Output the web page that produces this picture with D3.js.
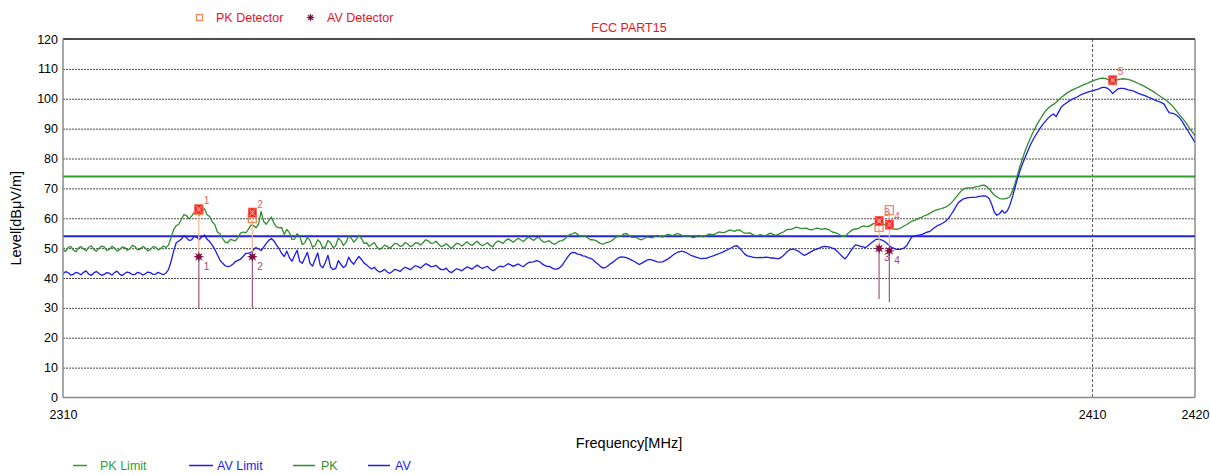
<!DOCTYPE html>
<html>
<head>
<meta charset="utf-8">
<script src="https://cdn.jsdelivr.net/npm/d3@7"></script>
<style>
  body { margin: 0; background: #fff; }
  text { font-family: "Liberation Sans", Arial, sans-serif; }
</style>
</head>
<body>
<svg id="chart" width="1210" height="475"></svg>
<script>
// Sweep 2310–2420 MHz, one reading every 0.25 MHz (dBµV/m), 40 readings per row = 10 MHz
const freqStart = 2310;
const freqStep = 0.25;

const pkTrace = [
  49.6, 48.9, 50.2, 50.6, 49.4, 48.8, 50.0, 50.5, 49.7, 49.1, 50.3, 50.8, 49.5, 49.0, 49.9, 50.7, 50.4, 49.2, 49.6, 50.6,
  50.1, 49.0, 49.5, 50.4, 50.2, 49.3, 49.8, 50.9, 50.5, 49.4, 49.7, 50.6, 50.0, 49.1, 49.6, 50.5, 50.3, 49.4, 49.9, 50.7,
  50.2, 51.0, 53.5, 56.2, 57.5, 58.0, 59.6, 61.2, 60.9, 59.8, 60.7, 62.0, 61.9, 61.0, 62.4, 63.2, 61.2, 60.6, 58.8, 57.9,
  55.4, 54.8, 53.3, 52.0, 51.8, 52.9, 52.7, 52.4, 53.6, 55.0, 55.4, 55.1, 56.2, 57.7, 57.6, 56.8, 57.9, 62.3, 58.9, 58.0,
  59.2, 60.4, 58.4, 57.1, 56.8, 56.9, 54.6, 56.3, 55.2, 52.9, 53.0, 54.8, 54.0, 51.2, 51.8, 53.6, 52.6, 50.3, 50.9, 52.8,
  52.0, 49.9, 50.4, 52.6, 51.8, 50.1, 50.8, 53.4, 52.5, 50.9, 51.9, 54.0, 53.4, 52.0, 52.9, 54.3, 53.3, 51.6, 51.8, 50.6,
  51.2, 51.9, 50.4, 49.6, 50.1, 51.0, 50.6, 49.9, 50.7, 51.6, 51.4, 50.6, 50.8, 51.9, 51.4, 50.5, 50.9, 51.8, 51.7, 51.0,
  51.9, 52.8, 52.4, 51.6, 51.7, 52.3, 51.3, 50.5, 50.8, 51.5, 50.7, 49.9, 50.8, 51.6, 51.4, 50.7, 51.4, 52.1, 51.3, 50.9,
  51.7, 52.3, 51.4, 50.8, 51.3, 51.8, 50.9, 50.4, 51.7, 52.4, 52.1, 51.6, 52.5, 53.1, 52.6, 52.0, 52.7, 53.3, 52.7, 52.2,
  53.1, 53.7, 53.1, 52.6, 53.4, 53.6, 52.5, 52.0, 52.2, 52.5, 51.7, 51.3, 51.8, 52.4, 52.5, 53.0, 53.9, 54.6, 54.8, 55.2,
  54.6, 54.0, 54.1, 54.0, 53.4, 52.8, 52.8, 52.6, 52.0, 51.5, 51.3, 51.8, 52.0, 52.3, 53.0, 53.7, 54.0, 54.0, 54.8, 54.9,
  54.2, 53.6, 53.6, 53.6, 53.0, 52.8, 53.3, 53.8, 53.6, 53.4, 53.9, 54.3, 54.0, 53.7, 54.1, 54.6, 54.4, 54.2, 54.6, 54.9,
  54.5, 54.0, 54.1, 54.2, 53.8, 53.5, 53.8, 54.3, 54.0, 53.8, 54.2, 54.7, 54.6, 54.5, 55.0, 55.4, 55.3, 55.2, 55.6, 56.0,
  55.9, 55.6, 56.0, 56.1, 55.5, 55.0, 55.0, 55.1, 54.6, 54.2, 54.2, 54.5, 54.3, 54.1, 54.6, 55.0, 54.6, 54.3, 54.6, 55.0,
  55.4, 56.0, 56.3, 56.3, 56.6, 57.0, 56.8, 56.5, 56.6, 56.7, 56.3, 56.1, 56.4, 56.7, 56.5, 56.3, 56.5, 56.4, 56.0, 55.4,
  55.2, 54.9, 54.4, 53.9, 53.9, 54.8, 55.6, 56.2, 56.4, 56.5, 57.0, 57.4, 57.3, 57.2, 57.7, 58.2, 58.2, 58.0, 58.3, 58.0,
  57.6, 57.2, 56.8, 56.4, 56.3, 56.5, 56.9, 57.5, 57.9, 58.5, 59.0, 59.3, 59.7, 60.1, 60.4, 60.9, 61.2, 61.7, 62.2, 62.6,
  62.9, 63.1, 63.4, 63.7, 64.2, 64.9, 65.8, 66.9, 68.0, 69.0, 69.8, 70.1, 70.2, 70.2, 70.3, 70.6, 70.7, 71.0, 71.1, 70.6,
  69.8, 68.7, 67.8, 67.1, 66.6, 66.5, 66.5, 66.7, 67.2, 69.0, 71.5, 74.5, 77.5, 80.1, 82.6, 84.8, 86.8, 88.7, 90.4, 92.0,
  93.4, 94.8, 96.0, 96.9, 97.6, 98.1, 98.8, 99.6, 100.4, 101.1, 101.8, 102.3, 102.8, 103.2, 103.6, 104.0, 104.4, 104.8, 105.1, 105.5,
  105.9, 106.2, 106.5, 106.8, 106.9, 106.8, 106.5, 106.0, 105.8, 106.1, 106.4, 106.6, 106.7, 106.6, 106.5, 106.2, 105.9, 105.5, 105.1, 104.7,
  104.3, 103.8, 103.3, 102.8, 102.3, 101.7, 101.1, 100.5, 99.9, 99.3, 98.6, 97.8, 96.8, 95.7, 94.6, 93.6, 92.5, 91.3, 90.0, 88.8,
  87.6
];

const avTrace = [
  41.4, 42.1, 41.8, 41.0, 41.2, 41.9, 41.6, 41.1, 41.9, 42.4, 41.3, 40.9, 41.7, 42.2, 41.5, 40.9, 41.2, 41.8, 41.6, 41.0,
  41.8, 42.3, 41.3, 40.8, 41.5, 42.0, 41.7, 41.1, 41.2, 41.9, 41.6, 41.0, 41.4, 42.0, 41.8, 41.2, 41.3, 41.9, 41.5, 41.1,
  41.6, 42.8, 45.5, 49.0, 51.8, 52.4, 53.0, 54.2, 53.5, 52.6, 52.8, 54.0, 53.6, 52.9, 53.8, 54.4, 53.0, 52.2, 51.0, 49.6,
  47.8, 46.0, 45.0, 44.1, 43.8, 44.0, 44.6, 45.5, 45.9, 46.3, 47.2, 48.2, 48.3, 48.5, 49.4, 50.2, 49.7, 49.2, 50.3, 51.6,
  52.6, 53.2, 52.4, 51.0, 49.8, 48.2, 47.2, 49.0, 46.8, 45.6, 47.5, 49.3, 45.6, 44.9, 46.8, 48.6, 44.9, 44.0, 46.2, 48.4,
  44.2, 43.4, 45.3, 47.6, 43.6, 42.8, 43.2, 45.8, 44.6, 43.5, 44.2, 47.0, 45.5, 44.6, 46.0, 47.2, 46.2, 45.0, 44.4, 43.6,
  43.0, 43.6, 42.6, 42.0, 42.3, 42.9, 42.0, 41.6, 42.2, 42.9, 42.6, 42.2, 43.0, 43.6, 43.2, 42.8, 43.5, 44.1, 43.8, 43.3,
  44.1, 44.8, 44.4, 43.8, 43.9, 44.2, 43.4, 42.8, 42.8, 43.3, 42.2, 41.8, 42.5, 43.1, 42.8, 42.4, 43.1, 43.7, 43.4, 43.0,
  43.7, 44.3, 43.7, 43.2, 43.6, 43.9, 43.0, 42.5, 42.8, 43.6, 44.0, 43.7, 44.2, 44.8, 44.4, 43.9, 44.3, 44.7, 44.1, 43.8,
  44.6, 45.2, 45.3, 45.4, 45.8, 45.6, 44.9, 44.3, 43.9, 43.9, 43.4, 43.0, 43.0, 43.4, 44.2, 45.6, 46.8, 48.0, 48.6, 48.5,
  48.0, 47.9, 47.4, 47.3, 46.8, 46.6, 46.1, 45.3, 44.6, 43.8, 43.3, 43.6, 44.2, 44.9, 45.4, 46.2, 46.8, 47.1, 47.0, 46.8,
  46.4, 46.0, 45.6, 45.0, 44.5, 45.0, 45.5, 46.0, 46.2, 46.0, 45.7, 45.4, 45.3, 45.4, 45.8, 46.3, 46.9, 47.6, 48.2, 48.7,
  48.9, 48.9, 48.6, 48.1, 47.6, 47.3, 47.0, 46.7, 46.5, 46.6, 46.6, 46.9, 47.2, 47.5, 47.8, 48.2, 48.5, 48.9, 49.3, 49.8,
  50.2, 50.7, 50.8, 50.0, 49.0, 48.0, 47.4, 47.2, 47.0, 46.8, 46.8, 46.9, 46.8, 47.0, 46.9, 46.7, 46.7, 46.6, 46.4, 46.8,
  47.5, 48.4, 49.2, 49.6, 49.7, 49.3, 48.9, 48.2, 47.6, 47.9, 48.4, 48.9, 49.4, 49.7, 50.0, 50.4, 50.6, 50.5, 50.3, 50.0,
  49.7, 48.9, 48.0, 47.1, 46.4, 47.5, 48.8, 50.1, 51.1, 50.9, 50.6, 50.4, 50.2, 50.9, 51.6, 52.3, 52.9, 53.0, 52.8, 52.4,
  51.8, 51.0, 50.3, 49.9, 49.6, 49.6, 49.7, 50.1, 50.9, 52.4, 53.8, 54.1, 54.3, 54.4, 54.6, 55.0, 55.4, 55.6, 56.4, 57.0,
  57.6, 57.9, 58.4, 58.9, 59.8, 61.0, 62.3, 63.8, 65.2, 65.9, 66.5, 66.7, 66.9, 67.0, 67.0, 67.1, 67.3, 67.4, 67.5, 67.3,
  66.6, 64.6, 62.0, 61.0, 61.5, 62.6, 61.7, 62.4, 64.3, 67.0, 70.2, 73.2, 76.0, 78.3, 80.4, 82.5, 84.5, 86.2, 87.7, 89.1,
  90.4, 91.6, 92.6, 93.6, 94.4, 94.9, 94.0, 95.6, 97.2, 98.0, 98.6, 99.2, 99.7, 100.1, 100.5, 101.0, 101.5, 101.8, 102.1, 102.4,
  102.6, 102.9, 103.1, 103.5, 103.8, 103.8, 103.5, 102.8, 101.7, 102.6, 103.3, 103.5, 103.5, 103.3, 103.0, 102.8, 102.6, 102.2, 101.8, 101.5,
  101.2, 100.9, 100.5, 100.1, 99.7, 99.4, 99.0, 98.7, 98.2, 96.6, 95.3, 95.2, 94.9, 94.4, 93.6, 92.4, 91.0, 89.7, 88.2, 86.8,
  85.4
];

// Limits (FCC Part 15)
const pkLimit = 74;
const avLimit = 54;

// Axis ticks
const yTicks = [0, 10, 20, 30, 40, 50, 60, 70, 80, 90, 100, 110, 120];
const xTicks = [2310, 2410, 2420];
const xGridFreqs = [2410];

// Final measurement markers
const markerIds   = [1, 2, 3, 4, 5];
const markerFreq  = [2323.2, 2328.4, 2389.3, 2390.3, 2412.0];
const markerLevel = [63.0, 61.9, 59.1, 57.9, 106.2];   // marker on PK sweep
const pkDetector  = [62.8, 60.1, 57.1, 62.7, null];     // PK detector reading
const avDetector  = [47.1, 47.1, 49.9, 49.1, null];     // AV detector reading
const stemFloor   = [30.0, 30.0, 33.0, 32.0, null];

// Legend entries
const legendNames = ["PK Limit", "AV Limit", "PK", "AV"];

const colors = {
  pk: "#2e8e2e", pkLimit: "#2f9f2f", av: "#1c1ceb", avLimit: "#2323dc",
  grid: "#4a4a4a", title: "#e8141c", pkMark: "#f08a5d", avMark: "#7d1244",
  traceMark: "#f02424", upperStem: "#f6b88e", lowerStem: "#a4557c",
  markLabel: "#e8605a", avLabel: "#a24a72"
};

const svg = d3.select("#chart");
const x = d3.scaleLinear().domain([2310, 2420]).range([63, 1195]);
const y = d3.scaleLinear().domain([0, 120]).range([397.5, 39]);
const [x0, x1] = x.range();
const [yb, yt] = y.range();
const freqs = pkTrace.map((_, i) => freqStart + i * freqStep);

svg.append("defs").append("clipPath").attr("id", "plotClip")
  .append("rect").attr("x", x0).attr("y", yt).attr("width", x1 - x0).attr("height", yb - yt);

// horizontal grid
svg.append("g").selectAll("line").data(yTicks.filter(t => t > 0 && t < 120)).join("line")
  .attr("x1", x0).attr("x2", x1)
  .attr("y1", d => y(d) + 0.5).attr("y2", d => y(d) + 0.5)
  .attr("stroke", colors.grid).attr("stroke-width", 1).attr("stroke-dasharray", "2,1");

// vertical grid
svg.append("g").selectAll("line").data(xGridFreqs).join("line")
  .attr("x1", d => Math.round(x(d)) + 0.5).attr("x2", d => Math.round(x(d)) + 0.5)
  .attr("y1", yt).attr("y2", yb)
  .attr("stroke", "#666").attr("stroke-width", 1).attr("stroke-dasharray", "3,2");

const plot = svg.append("g").attr("clip-path", "url(#plotClip)");

const line = d3.line().x((d, i) => x(freqs[i])).y(d => y(d));

// limit lines
plot.append("line").attr("x1", x0).attr("x2", x1).attr("y1", y(pkLimit)).attr("y2", y(pkLimit))
  .attr("stroke", colors.pkLimit).attr("stroke-width", 2);
plot.append("line").attr("x1", x0).attr("x2", x1).attr("y1", y(avLimit)).attr("y2", y(avLimit))
  .attr("stroke", colors.avLimit).attr("stroke-width", 2);

// sweeps
plot.append("path").datum(pkTrace).attr("d", line)
  .attr("fill", "none").attr("stroke", colors.pk).attr("stroke-width", 1.3).attr("stroke-linejoin", "round");
plot.append("path").datum(avTrace).attr("d", line)
  .attr("fill", "none").attr("stroke", colors.av).attr("stroke-width", 1.3).attr("stroke-linejoin", "round");

// frame
svg.append("line").attr("x1", x0).attr("x2", x1).attr("y1", yt).attr("y2", yt).attr("stroke", "#111").attr("stroke-width", 1.5);
svg.append("line").attr("x1", x0).attr("x2", x0).attr("y1", yt).attr("y2", yb).attr("stroke", "#8a8a8a").attr("stroke-width", 1.5);
svg.append("line").attr("x1", x0).attr("x2", x1).attr("y1", yb).attr("y2", yb).attr("stroke", "#8a8a8a").attr("stroke-width", 1.5);
svg.append("line").attr("x1", x1).attr("x2", x1).attr("y1", yt).attr("y2", yb).attr("stroke", "#555").attr("stroke-width", 1);

// star glyph for the AV detector
function starPath(r1, r2, n) {
  const pts = [];
  for (let i = 0; i < 2 * n; i++) {
    const r = i % 2 ? r2 : r1;
    const a = Math.PI * i / n - Math.PI / 2;
    pts.push([r * Math.cos(a), r * Math.sin(a)]);
  }
  return "M" + pts.map(p => p[0].toFixed(2) + "," + p[1].toFixed(2)).join("L") + "Z";
}
const star = starPath(5.5, 2.4, 8);

function hatchedMark(g) {
  g.append("rect").attr("x", -4).attr("y", -4.5).attr("width", 8).attr("height", 9)
    .attr("fill", colors.traceMark).attr("stroke", "#ff5a4a").attr("stroke-width", 0.8);
  g.append("path").attr("d", "M-3,-3.5L3,3.5M3,-3.5L-3,3.5M-1.8,0L0,-2L1.8,0L0,2Z")
    .attr("fill", "none").attr("stroke", "#ffb4a8").attr("stroke-width", 0.8);
}

// markers
const markers = markerIds.map((id, i) => ({
  id, f: markerFreq[i], lvl: markerLevel[i], pk: pkDetector[i], av: avDetector[i], floor: stemFloor[i]
}));

const mk = svg.append("g");
markers.forEach(m => {
  const mx = x(m.f);
  if (m.av != null) {
    const top = Math.max(m.lvl, m.pk);
    mk.append("line").attr("x1", mx).attr("x2", mx).attr("y1", y(top)).attr("y2", y(m.av))
      .attr("stroke", colors.upperStem).attr("stroke-width", 1.2);
    mk.append("line").attr("x1", mx).attr("x2", mx).attr("y1", y(m.av)).attr("y2", y(m.floor))
      .attr("stroke", colors.lowerStem).attr("stroke-width", 1.2);
  }
});
markers.forEach(m => {
  const mx = x(m.f);
  if (m.pk != null) {
    mk.append("rect").attr("x", mx - 4).attr("y", y(m.pk) - 4.5).attr("width", 8).attr("height", 9)
      .attr("fill", "none").attr("stroke", colors.pkMark).attr("stroke-width", 1.3);
  }
  hatchedMark(mk.append("g").attr("transform", `translate(${mx},${y(m.lvl)})`));
  mk.append("text").attr("x", mx + 5).attr("y", y(m.lvl) - 5).text(m.id)
    .attr("font-size", 10).attr("fill", colors.markLabel);
  if (m.av != null) {
    mk.append("path").attr("d", star).attr("transform", `translate(${mx},${y(m.av)})`)
      .attr("fill", colors.avMark);
    mk.append("text").attr("x", mx + 5).attr("y", y(m.av) + 13).text(m.id)
      .attr("font-size", 10).attr("fill", colors.avLabel);
  }
});

// axes
const yAxis = svg.append("g").attr("transform", `translate(${x0},0)`)
  .call(d3.axisLeft(y).tickValues(yTicks).tickSize(0).tickPadding(5).tickFormat(d3.format("d")));
yAxis.select(".domain").remove();
yAxis.selectAll("text").attr("font-size", 12.5).attr("fill", "#000")
  .attr("font-family", "'Liberation Sans', Arial, sans-serif");

const xAxis = svg.append("g").attr("transform", `translate(0,${yb})`)
  .call(d3.axisBottom(x).tickValues(xTicks).tickSize(0).tickPadding(13).tickFormat(d3.format("d")));
xAxis.select(".domain").remove();
xAxis.selectAll("text").attr("font-size", 12.5).attr("fill", "#000")
  .attr("font-family", "'Liberation Sans', Arial, sans-serif");

// titles
const midX = (x0 + x1) / 2;
svg.append("text").attr("x", midX).attr("y", 32).attr("text-anchor", "middle")
  .attr("font-size", 12.5).attr("fill", colors.title).text("FCC PART15");
svg.append("text").attr("x", midX).attr("y", 448).attr("text-anchor", "middle")
  .attr("font-size", 14.5).attr("fill", "#000").text("Frequency[MHz]");
svg.append("text").attr("transform", `translate(21,${(yt + yb) / 2}) rotate(-90)`)
  .attr("text-anchor", "middle").attr("font-size", 14.5).attr("fill", "#000").text("Level[dBμV/m]");

// detector legend (top)
const topLeg = svg.append("g");
topLeg.append("rect").attr("x", 196.5).attr("y", 14.5).attr("width", 6).attr("height", 6)
  .attr("fill", "none").attr("stroke", colors.pkMark).attr("stroke-width", 1.4);
topLeg.append("text").attr("x", 216).attr("y", 22).attr("font-size", 12.5).attr("fill", colors.title).text("PK Detector");
topLeg.append("path").attr("d", starPath(4.5, 2, 8)).attr("transform", "translate(310.5,17.5)").attr("fill", colors.avMark);
topLeg.append("text").attr("x", 327).attr("y", 22).attr("font-size", 12.5).attr("fill", colors.title).text("AV Detector");

// trace legend (bottom)
const legColors = [colors.pkLimit, colors.av, colors.pk, colors.av];
const legLine = [[73, 87], [189, 213], [293, 315], [368, 390]];
const legText = [100, 217, 321, 395];
const bottomLeg = svg.append("g");
legendNames.forEach((name, i) => {
  bottomLeg.append("line").attr("x1", legLine[i][0]).attr("x2", legLine[i][1]).attr("y1", 465.5).attr("y2", 465.5)
    .attr("stroke", legColors[i]).attr("stroke-width", 1.5);
  bottomLeg.append("text").attr("x", legText[i]).attr("y", 470).attr("font-size", 12.5)
    .attr("fill", legColors[i]).text(name);
});
</script>
</body>
</html>
